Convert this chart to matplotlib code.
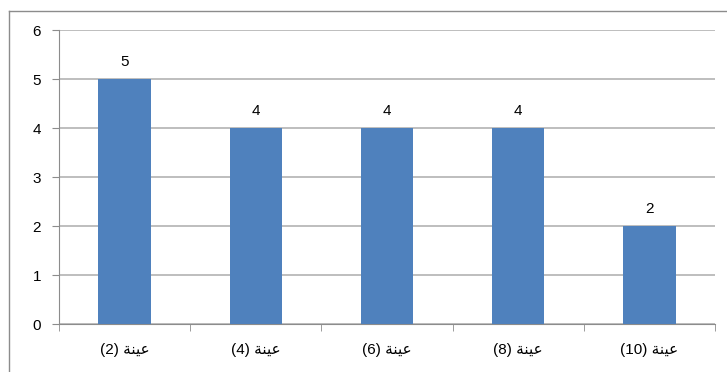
import matplotlib.pyplot as plt
from matplotlib.lines import Line2D

plt.rcParams['font.family'] = ['Liberation Sans', 'DejaVu Sans']

# عينة written in presentation forms, left-to-right visual order
word = '\uFE94\uFEE8\uFEF4\uFECB'
samples = [2, 4, 6, 8, 10]
labels = ['(%d) %s' % (s, word) for s in samples]
values = [5, 4, 4, 4, 2]

fig = plt.figure(figsize=(7.27, 3.72), dpi=100)
ax = fig.add_axes([0.0812, 0.129, 0.9023, 0.790])

x = range(len(values))
ax.bar(x, values, width=0.4, color='#4F81BD', zorder=3)

for xi, v in zip(x, values):
    ax.annotate(str(v), (xi, v), xytext=(0, 7), textcoords='offset points',
                ha='center', va='bottom', fontsize=11)

ax.set_ylim(0, 6)
ax.set_xlim(-0.5, len(values) - 0.5)
ax.set_yticks(range(0, 7))
ax.yaxis.grid(True, color='#b3b3b3', linewidth=1.2, zorder=0)

ax.set_xticks(list(x))
ax.set_xticklabels(labels, fontsize=11)
ax.set_xticks([i - 0.5 for i in range(len(values) + 1)], minor=True)
ax.tick_params(axis='x', which='major', length=0, pad=14)
ax.tick_params(axis='x', which='minor', length=5, color='#8c8c8c')
ax.tick_params(axis='y', length=5, color='#8c8c8c', labelsize=11, pad=8)

for s in ['top', 'right']:
    ax.spines[s].set_visible(False)
for s in ['left', 'bottom']:
    ax.spines[s].set_color('#8c8c8c')

# outer chart frame
fig.add_artist(Line2D([0.0124, 1.0], [0.970, 0.970], color='#8c8c8c', linewidth=1, transform=fig.transFigure))
fig.add_artist(Line2D([0.0124, 0.0124], [0.0, 0.970], color='#8c8c8c', linewidth=1, transform=fig.transFigure))

fig.savefig('out.png', dpi=100)
